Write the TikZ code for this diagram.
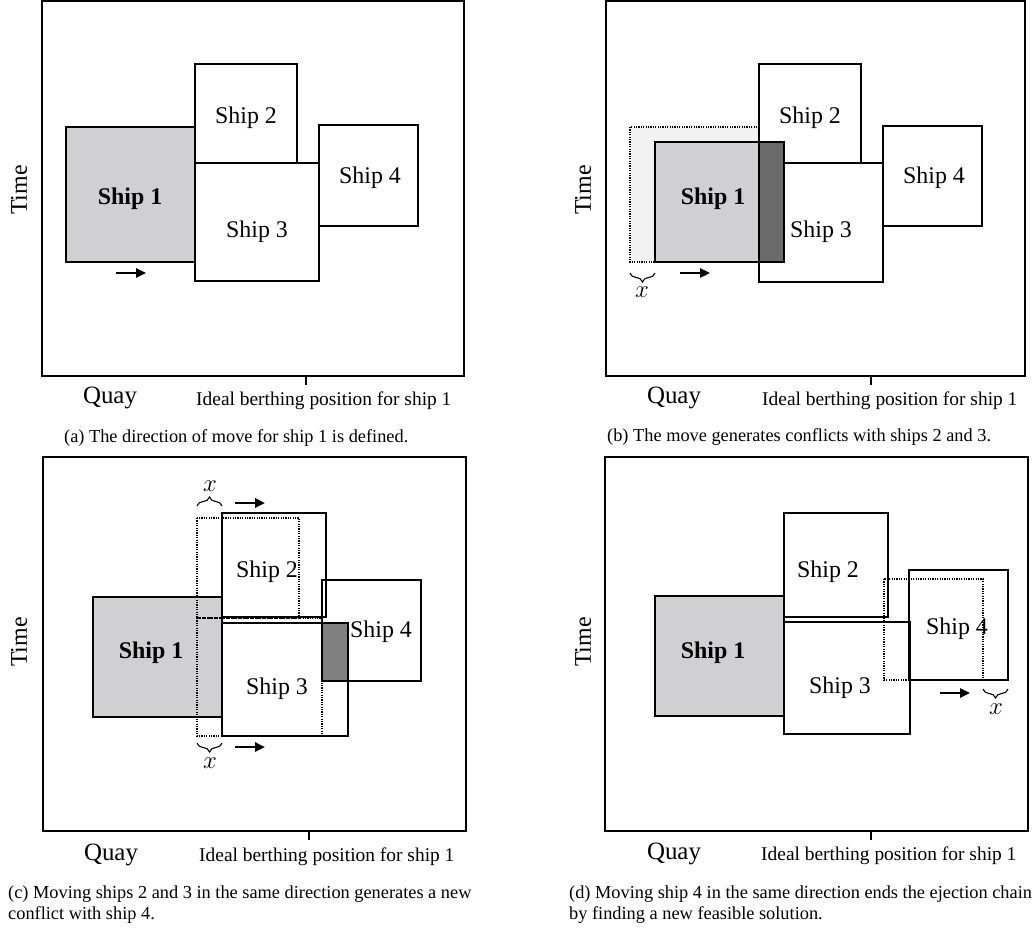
\documentclass[tikz,border=0pt]{standalone}
\usepackage{fontspec}
\setmainfont{Liberation Serif}
\usetikzlibrary{arrows.meta,decorations.pathreplacing}
\definecolor{shipgray}{HTML}{D0CFD1}
\definecolor{ghostfill}{HTML}{F2F2F2}
\definecolor{darkb}{HTML}{6B6B6B}
\definecolor{darkc}{HTML}{808080}
\tikzset{
  frame/.style={draw, line width=2.4bp},
  shipbox/.style={draw, line width=1.3bp},
  ghost/.style={draw, line width=1.1bp, dash pattern=on 1.2bp off 1.2bp},
  shiplbl/.style={anchor=base, inner sep=0pt, font=\fontsize{24}{28}\selectfont},
  boldlbl/.style={shiplbl, font=\fontsize{24}{28}\selectfont\bfseries},
  timelbl/.style={rotate=90, inner sep=0pt, font=\fontsize{24}{28}\selectfont},
  quaylbl/.style={anchor=base, inner sep=0pt, font=\fontsize{25}{28}\selectfont},
  ideallbl/.style={anchor=base west, inner sep=0pt, font=\fontsize{19.5}{23}\selectfont},
  caplbl/.style={anchor=base west, inner sep=0pt, font=\fontsize{18.4}{21}\selectfont},
  xlbl/.style={inner sep=0pt, font=\fontsize{24}{28}\selectfont},
  mv/.style={line width=2.4bp, -{Triangle[length=10bp,width=9bp]}},
  brc/.style={decorate, decoration={brace, amplitude=9bp}, line width=1.1bp},
  brcdown/.style={decorate, decoration={brace, amplitude=9bp, mirror}, line width=1.1bp}
}
\begin{document}
\begin{tikzpicture}[x=1bp, y=-1bp]
\useasboundingbox (0,0) rectangle (1032,930);

% ---------------- (a) ----------------
\draw[frame] (42,1) rectangle (464,376);
\draw[frame] (306,376) -- (306,385);
\draw[shipbox, fill=shipgray] (66,127) rectangle (195,262);
\draw[shipbox] (195,64) rectangle (297,163);
\draw[shipbox] (195,163) rectangle (319,281);
\draw[shipbox] (319,125) rectangle (418,226);
\node[boldlbl] (a1) at (130,204) {Ship 1};
\node[shiplbl] (a2) at (246,123) {Ship 2};
\node[shiplbl] (a3) at (257,237) {Ship 3};
\node[shiplbl] (a4) at (370,183) {Ship 4};
\coordinate (amv0) at (116,273);
\coordinate (amv1) at (146,273);
\draw[mv] (amv0) -- (amv1);
\node[timelbl] (atime) at (19,190) {Time};
\node[quaylbl] (aquay) at (110,403) {Quay};
\node[ideallbl] (aideal) at (196,405) {Ideal berthing position for ship 1};
\node[caplbl] (acap) at (64,442) {(a) The direction of move for ship 1 is defined.};

% ---------------- (b) ----------------
\draw[frame] (606,1) rectangle (1025,376);
\draw[frame] (871,376) -- (871,385);
\draw[ghost, fill=ghostfill] (630,127) rectangle (759,262);
\draw[shipbox] (759,64) rectangle (861,163);
\draw[shipbox] (759,163) rectangle (883,282);
\draw[shipbox] (883,126) rectangle (982,226);
\draw[shipbox, fill=shipgray] (655,142) rectangle (784,262);
\draw[shipbox, fill=darkb] (759,142) rectangle (784,262);
\node[boldlbl] (b1) at (713,204) {Ship 1};
\node[shiplbl] (b2) at (810,123) {Ship 2};
\node[shiplbl] (b3) at (821,237) {Ship 3};
\node[shiplbl] (b4) at (934,183) {Ship 4};
\draw[brcdown] (630,273) -- (655,273);
\node[xlbl] (bx) at (642,292) {$x$};
\coordinate (bmv0) at (680,273);
\coordinate (bmv1) at (710,273);
\draw[mv] (bmv0) -- (bmv1);
\node[timelbl] (btime) at (583,190) {Time};
\node[quaylbl] (bquay) at (674,403) {Quay};
\node[ideallbl] (bideal) at (762,405) {Ideal berthing position for ship 1};
\node[caplbl] (bcap) at (607,441) {(b) The move generates conflicts with ships 2 and 3.};

% ---------------- (c) ----------------
\draw[frame] (43,457) rectangle (466,831);
\draw[frame] (309,831) -- (309,840);
\draw[shipbox, fill=shipgray] (93,597) rectangle (222,717);
\draw[shipbox] (222,513) rectangle (326,617);
\draw[shipbox] (222,623) rectangle (348,736);
\draw[shipbox] (322,580) rectangle (421,681);
\draw[shipbox, fill=darkc] (322,623) rectangle (348,681);
\draw[ghost] (197,518) rectangle (299,618);
\draw[ghost] (197,618) rectangle (322,736);
\node[boldlbl] (c1) at (151,658) {Ship 1};
\node[shiplbl] (c2) at (267,577) {Ship 2};
\node[shiplbl] (c3) at (277,694) {Ship 3};
\node[shiplbl] (c4) at (381,637) {Ship 4};
\draw[brc] (197,506) -- (222,506);
\node[xlbl] (cxtop) at (210,486) {$x$};
\draw[brcdown] (197,743) -- (222,743);
\node[xlbl] (cxbot) at (210,763) {$x$};
\coordinate (cmv0) at (235,503);
\coordinate (cmv1) at (265,503);
\draw[mv] (cmv0) -- (cmv1);
\coordinate (cmv2) at (235,747);
\coordinate (cmv3) at (265,747);
\draw[mv] (cmv2) -- (cmv3);
\node[timelbl] (ctime) at (19,642) {Time};
\node[quaylbl] (cquay) at (111,860) {Quay};
\node[ideallbl] (cideal) at (199,861) {Ideal berthing position for ship 1};
\node[caplbl] (capc1) at (8,898) {(c) Moving ships 2 and 3 in the same direction generates a new};
\node[caplbl] (capc2) at (8,919) {conflict with ship 4.};

% ---------------- (d) ----------------
\draw[frame] (605,457) rectangle (1028,831);
\draw[frame] (871,831) -- (871,840);
\draw[shipbox, fill=shipgray] (655,596) rectangle (784,716);
\draw[shipbox] (784,513) rectangle (888,617);
\draw[shipbox] (784,622) rectangle (910,734);
\draw[shipbox] (909,570) rectangle (1008,680);
\draw[ghost] (884,579) rectangle (983,680);
\node[boldlbl] (d1) at (713,658) {Ship 1};
\node[shiplbl] (d2) at (828,577) {Ship 2};
\node[shiplbl] (d3) at (840,693) {Ship 3};
\node[shiplbl] (d4) at (957,634) {Ship 4};
\draw[brcdown] (983,689) -- (1008,689);
\node[xlbl] (dx) at (996,709) {$x$};
\coordinate (dmv0) at (940,693);
\coordinate (dmv1) at (970,693);
\draw[mv] (dmv0) -- (dmv1);
\node[timelbl] (dtime) at (583,642) {Time};
\node[quaylbl] (dquay) at (674,859) {Quay};
\node[ideallbl] (dideal) at (761,860) {Ideal berthing position for ship 1};
\node[caplbl] (capd1) at (569,898) {(d) Moving ship 4 in the same direction ends the ejection chain};
\node[caplbl] (capd2) at (569,919) {by finding a new feasible solution.};
\end{tikzpicture}
\end{document}
